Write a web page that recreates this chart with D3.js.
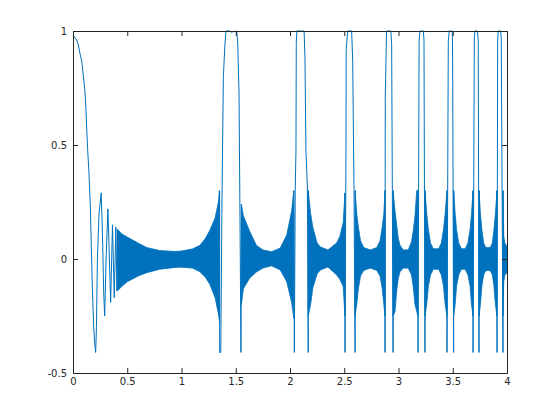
<!DOCTYPE html>
<html>
<head>
<meta charset="utf-8">
<script src="https://d3js.org/d3.v7.min.js"></script>
<style>
body { margin: 0; background: #fff; }
.tick text { font-family: "DejaVu Sans", sans-serif; font-size: 10px; fill: #262626; }
.domain, .tick line { stroke: #262626; }
</style>
</head>
<body>
<svg id="drawing_region" width="560" height="420"></svg>
<script>
// tick labels
var xTicks = [0, 0.5, 1, 1.5, 2, 2.5, 3, 3.5, 4];
var yTicks = [-0.5, 0, 0.5, 1];

// start of the curve: slow descent, then sparse oscillation
var headX = [0, 0.003, 0.034, 0.049, 0.065, 0.08, 0.089, 0.101, 0.111, 0.12, 0.126, 0.135, 0.147, 0.16, 0.169, 0.178, 0.19, 0.2, 0.209, 0.216, 0.225, 0.24, 0.26, 0.272, 0.283, 0.292, 0.305, 0.322, 0.347, 0.364, 0.38, 0.395, 0.405, 0.41];
var headY = [0.98, 0.98, 0.96, 0.94, 0.9, 0.87, 0.83, 0.78, 0.73, 0.65, 0.575, 0.48, 0.38, 0.23, 0.05, -0.12, -0.29, -0.37, -0.41, -0.3, 0, 0.2, 0.29, 0.1, -0.15, -0.25, 0, 0.22, -0.19, 0.15, -0.17, 0.14, -0.14, 0.13];

// dense band: upper / lower envelope, null = gap at a resonance
var bandX = [0.41, 0.45, 0.5, 0.6, 0.68, 0.8, 0.94, 1.0, 1.1, 1.17, 1.22, 1.26, 1.31, 1.34, 1.352, null,
    1.552, 1.57, 1.63, 1.69, 1.75, 1.83, 1.91, 1.97, 2.015, 2.035, null,
    2.168, 2.19, 2.21, 2.25, 2.28, 2.35, 2.43, 2.46, 2.49, 2.507, null,
    2.6, 2.615, 2.63, 2.65, 2.68, 2.74, 2.8, 2.83, 2.85, 2.865, 2.876, null,
    2.95, 2.968, 2.983, 2.998, 3.014, 3.044, 3.09, 3.12, 3.137, 3.152, 3.168, 3.18, null,
    3.244, 3.26, 3.275, 3.295, 3.32, 3.37, 3.395, 3.415, 3.43, 3.447, null,
    3.508, 3.522, 3.535, 3.555, 3.58, 3.615, 3.64, 3.66, 3.673, 3.687, null,
    3.742, 3.755, 3.768, 3.785, 3.805, 3.845, 3.865, 3.88, 3.893, 3.908, null,
    3.963, 3.97, 3.98, 4.0];
var bandHi = [0.13, 0.11, 0.096, 0.07, 0.05, 0.037, 0.033, 0.035, 0.044, 0.06, 0.09, 0.125, 0.18, 0.25, 0.3, null,
    0.24, 0.19, 0.12, 0.06, 0.04, 0.032, 0.048, 0.105, 0.21, 0.3, null,
    0.3, 0.2, 0.14, 0.07, 0.053, 0.04, 0.07, 0.1, 0.16, 0.29, null,
    0.3, 0.2, 0.14, 0.08, 0.05, 0.04, 0.05, 0.08, 0.14, 0.2, 0.3, null,
    0.3, 0.21, 0.15, 0.09, 0.06, 0.04, 0.04, 0.076, 0.127, 0.19, 0.3, 0.3, null,
    0.3, 0.2, 0.13, 0.07, 0.045, 0.045, 0.07, 0.13, 0.2, 0.3, null,
    0.3, 0.2, 0.13, 0.07, 0.045, 0.045, 0.07, 0.13, 0.2, 0.3, null,
    0.3, 0.2, 0.13, 0.07, 0.05, 0.05, 0.07, 0.13, 0.2, 0.3, null,
    0.3, 0.1, 0.07, 0.055];
var bandLo = [-0.14, -0.12, -0.1, -0.075, -0.06, -0.045, -0.037, -0.036, -0.04, -0.056, -0.08, -0.11, -0.17, -0.24, -0.28, null,
    -0.2, -0.13, -0.083, -0.057, -0.04, -0.03, -0.048, -0.1, -0.19, -0.26, null,
    -0.25, -0.2, -0.127, -0.065, -0.048, -0.035, -0.07, -0.09, -0.12, -0.25, null,
    -0.25, -0.2, -0.13, -0.075, -0.05, -0.04, -0.05, -0.075, -0.13, -0.2, -0.25, null,
    -0.25, -0.23, -0.14, -0.085, -0.056, -0.04, -0.04, -0.07, -0.127, -0.2, -0.23, -0.25, null,
    -0.25, -0.2, -0.12, -0.07, -0.045, -0.045, -0.07, -0.12, -0.2, -0.25, null,
    -0.25, -0.2, -0.12, -0.07, -0.045, -0.045, -0.07, -0.12, -0.2, -0.25, null,
    -0.25, -0.2, -0.12, -0.07, -0.05, -0.05, -0.07, -0.12, -0.2, -0.25, null,
    -0.25, -0.1, -0.07, -0.06];

// resonance lobes, [x, y]
var lobe1 = [[1.348, 0.3], [1.352, -0.41], [1.362, -0.41], [1.372, 0.2], [1.378, 0.47], [1.386, 0.8], [1.4, 0.94], [1.41, 1.0], [1.44, 1.0], [1.46, 0.995], [1.509, 1.0], [1.518, 0.95], [1.53, 0.73], [1.538, 0.25], [1.548, -0.41], [1.552, 0.24]];
var lobe2 = [[2.035, 0.3], [2.04, -0.41], [2.048, 0.3], [2.055, 0.47], [2.058, 0.95], [2.063, 1.0], [2.13, 1.0], [2.138, 0.88], [2.147, 0.47], [2.16, 0.32], [2.168, -0.41], [2.17, 0.3]];
var lobe3 = [[2.505, 0.29], [2.507, -0.41], [2.516, 0.5], [2.518, 0.92], [2.532, 1.0], [2.568, 1.0], [2.578, 0.87], [2.59, 0.3], [2.6, -0.41], [2.602, 0.3]];
var lobe4 = [[2.874, 0.3], [2.876, -0.41], [2.878, 0.71], [2.89, 1.0], [2.93, 1.0], [2.937, 0.94], [2.95, -0.41], [2.952, 0.3]];
var lobe5 = [[3.178, 0.3], [3.18, -0.41], [3.19, 0.96], [3.198, 1.0], [3.229, 1.0], [3.235, 0.96], [3.244, -0.41], [3.246, 0.3]];
var lobe6 = [[3.445, 0.3], [3.447, -0.41], [3.459, 0.96], [3.468, 1.0], [3.496, 1.0], [3.499, 0.87], [3.508, -0.41], [3.51, 0.3]];
var lobe7 = [[3.685, 0.3], [3.687, -0.41], [3.699, 0.97], [3.705, 1.0], [3.726, 1.0], [3.735, 0.96], [3.742, -0.41], [3.745, 0.3]];
var lobe8 = [[3.905, 0.3], [3.908, -0.41], [3.914, 0.96], [3.92, 1.0], [3.942, 1.0], [3.947, 0.96], [3.963, -0.41], [3.965, 0.3]];
var lobes = [lobe1, lobe2, lobe3, lobe4, lobe5, lobe6, lobe7, lobe8];

var width = 560;
var height = 420;
var margin = { top: 31, right: 53, bottom: 47, left: 73 };
var color = "#0072BD";

var svg = d3.select('#drawing_region');
svg.append('rect').attr('width', width).attr('height', height).attr('fill', '#fff');

var chart = svg.append('g')
    .attr('transform', `translate(${margin.left}, ${margin.top})`);

const inner_width = width - margin.left - margin.right;
const inner_height = height - margin.top - margin.bottom;

const xscale = d3.scaleLinear().domain([0, 4]).range([0, inner_width]);
const yscale = d3.scaleLinear().domain([-0.5, 1]).range([inner_height, 0]);

// band
var band = bandX.map((x, i) => ({ x: x, hi: bandHi[i], lo: bandLo[i] }));
var area = d3.area()
    .defined(d => d.x != null)
    .x(d => xscale(d.x))
    .y0(d => yscale(d.lo))
    .y1(d => yscale(d.hi));
chart.append('path')
    .datum(band)
    .attr('d', area)
    .attr('fill', color)
    .attr('stroke', color)
    .attr('stroke-width', 0.8);

var line = d3.line()
    .x(d => xscale(d[0]))
    .y(d => yscale(d[1]));

var head = headX.map((x, i) => [x, headY[i]]);
chart.append('path')
    .datum(head)
    .attr('d', line)
    .attr('fill', 'none')
    .attr('stroke', color)
    .attr('stroke-width', 1);

chart.selectAll('path.lobe')
    .data(lobes)
    .join('path')
    .attr('class', 'lobe')
    .attr('d', line)
    .attr('fill', 'none')
    .attr('stroke', color)
    .attr('stroke-width', 1);

// axes, ticks pointing inward, box all round
const xaxis = d3.axisBottom(xscale).tickValues(xTicks).tickFormat(d => d)
    .tickSize(-5).tickSizeOuter(0).tickPadding(5);
const yaxis = d3.axisLeft(yscale).tickValues(yTicks).tickFormat(d => d)
    .tickSize(-5).tickSizeOuter(0).tickPadding(6);
const xaxis_top = d3.axisTop(xscale).tickValues(xTicks).tickFormat('')
    .tickSize(-5).tickSizeOuter(0);
const yaxis_right = d3.axisRight(yscale).tickValues(yTicks).tickFormat('')
    .tickSize(-5).tickSizeOuter(0);

chart.append('g').attr('transform', `translate(0, ${inner_height})`).call(xaxis);
chart.append('g').call(yaxis);
chart.append('g').call(xaxis_top);
chart.append('g').attr('transform', `translate(${inner_width}, 0)`).call(yaxis_right);
</script>
</body>
</html>
